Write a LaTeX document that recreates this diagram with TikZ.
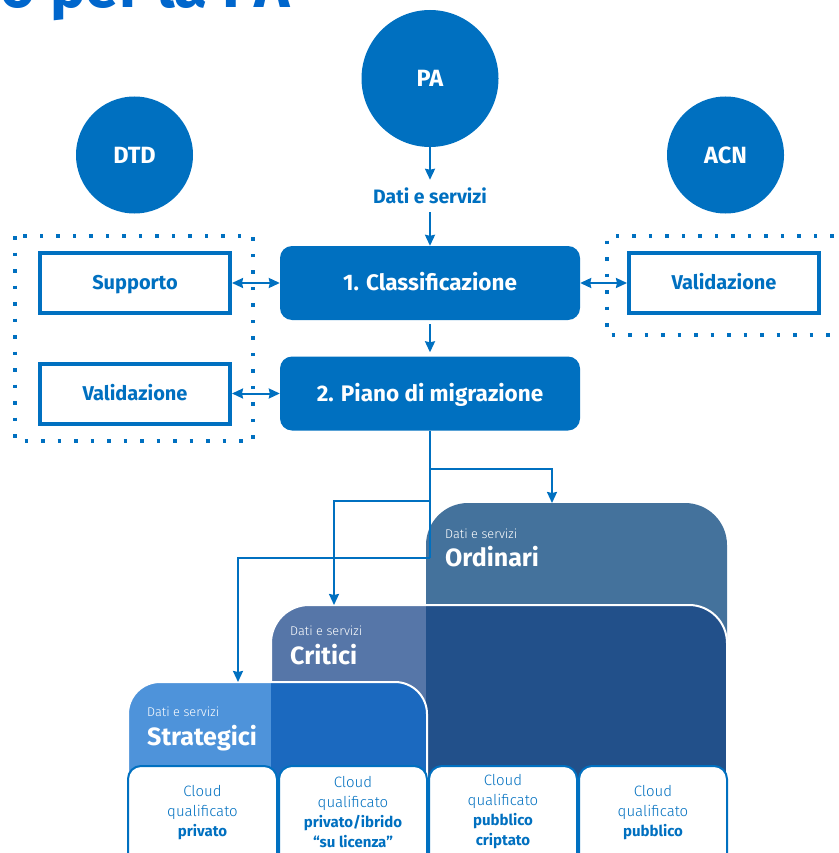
\documentclass[tikz,border=0pt]{standalone}
\usepackage{fontspec}
\setmainfont{Fira Sans}
\newfontfamily\leggero{Fira Sans Light}
\usepackage{tikz}
\usetikzlibrary{arrows.meta}
\usetikzlibrary{shapes}

\definecolor{pablu}{HTML}{0070C0}
\definecolor{titblu}{HTML}{0066CC}
\definecolor{ordcol}{HTML}{44729C}
\definecolor{critcol}{HTML}{5676A8}
\definecolor{critscuro}{HTML}{22508A}
\definecolor{strcol}{HTML}{4E93DA}
\definecolor{strscuro}{HTML}{1B69BF}

\newcommand{\grassetto}[1]{{\rmfamily\bfseries #1}}

\tikzset{>={Stealth[length=11pt,width=10pt,inset=1pt]},
  cerchio/.style={circle, fill=pablu, text=white, inner sep=0pt,
    text height=16.2pt, text depth=0pt,
    font=\bfseries\fontsize{23.5}{26}\selectfont},
  fase/.style={rectangle, rounded corners=12pt, fill=pablu, text=white,
    minimum width=300pt, minimum height=74pt,
    text height=15.5pt, text depth=0pt,
    font=\bfseries\fontsize{22.5}{26}\selectfont},
  ruolo/.style={rectangle, draw=pablu, line width=4pt, fill=white, text=pablu,
    minimum width=190pt, minimum height=60pt,
    text height=13.8pt, text depth=0pt,
    font=\bfseries\fontsize{20}{24}\selectfont},
  cornice/.style={pablu, line width=3.5pt, dash pattern=on 3.5pt off 13pt},
  freccia/.style={pablu, line width=2pt, ->},
  doppia/.style={pablu, line width=2pt, <->},
  linea/.style={pablu, line width=2pt},
  bordo/.style={white, line width=2pt},
  nuvola/.style={draw=pablu, fill=white, line width=2pt, rounded corners=13pt},
  testonuvola/.style={align=center, text=pablu,
    font=\leggero\fontsize{15}{20}\selectfont},
  sopra/.style={anchor=base west, inner sep=0pt, text=white,
    font=\leggero\fontsize{12.7}{15}\selectfont},
  nome/.style={anchor=base west, inner sep=0pt, text=white,
    font=\bfseries\fontsize{25}{28}\selectfont}
}

\begin{document}
\begin{tikzpicture}[x=1pt,y=-1pt]

    \useasboundingbox (0,0) rectangle (838,853);
    \clip (0,0) rectangle (838,853);

    % titolo, tagliato in alto
    \node[anchor=base east, inner sep=0pt, text=titblu,
      font=\bfseries\fontsize{60}{60}\selectfont] (titolo) at (290,8) {o per la PA};

    % attori
    \node[cerchio, minimum size=137pt] (pa) at (430,78.5) {PA};
    \node[cerchio, minimum size=117pt] (dtd) at (134.5,155) {DTD};
    \node[cerchio, minimum size=117pt] (acn) at (725.5,155) {ACN};

    \node[text=pablu, inner sep=8pt, font=\bfseries\fontsize{19.4}{22}\selectfont]
      (dati) at (430,196) {Dati e servizi};

    % fasi
    \node[fase] (classif) at (430,283) {1. Classificazione};
    \node[fase] (piano) at (430,393.5) {2. Piano di migrazione};

    \draw[cornice] (15,236) rectangle (253,441);
    \draw[cornice] (850,236) -- (607,236) -- (607,335) -- (850,335);

    \node[ruolo] (supporto) at (135,283) {Supporto};
    \node[ruolo] (validdtd) at (135,393.5) {Validazione};
    \node[ruolo] (validacn) at (724,283) {Validazione};

    \draw[freccia] (pa) -- (dati);
    \draw[freccia] (dati) -- (classif);
    \draw[freccia, shorten <=4pt, shorten >=4pt] (classif) -- (piano);
    \draw[doppia] (supporto) -- (classif);
    \draw[doppia] (validdtd) -- (piano);
    \draw[doppia] (classif) -- (validacn);


    % categorie di dati e servizi
    \fill[ordcol, rounded corners=42pt] (426,900) -- (426,503) -- (727,503) -- (727,900) -- cycle;

    \fill[critcol, rounded corners=38pt] (271,900) -- (271,605) -- (727,605) -- (727,900) -- cycle;
    \begin{scope}
      \clip[rounded corners=38pt] (271,900) -- (271,605) -- (727,605) -- (727,900) -- cycle;
      \fill[critscuro] (426,600) rectangle (730,900);
    \end{scope}
    \draw[bordo, rounded corners=38pt] (271,900) -- (271,605) -- (727,605) -- (727,900);

    \fill[strcol, rounded corners=32pt] (128,900) -- (128,682) -- (427,682) -- (427,900) -- cycle;
    \begin{scope}
      \clip[rounded corners=32pt] (128,900) -- (128,682) -- (427,682) -- (427,900) -- cycle;
      \fill[strscuro] (271,600) rectangle (430,900);
    \end{scope}
    \draw[bordo, rounded corners=32pt] (128,900) -- (128,682) -- (427,682) -- (427,900);

    \node[sopra] (datiord) at (445,538) {Dati e servizi};
    \node[nome] (ordinari) at (445,566) {Ordinari};
    \node[sopra] (daticrit) at (290,635) {Dati e servizi};
    \node[nome] (critici) at (290,664) {Critici};
    \node[sopra] (datistr) at (147,716) {Dati e servizi};
    \node[nome] (strategici) at (147,745) {Strategici};

    % cloud qualificati
    \draw[nuvola] (128,900) -- (128,766) -- (277,766) -- (277,900);
    \draw[nuvola] (279,900) -- (279,766) -- (427,766) -- (427,900);
    \draw[nuvola] (429,900) -- (429,766) -- (577,766) -- (577,900);
    \draw[nuvola] (579,900) -- (579,766) -- (727,766) -- (727,900);

    \node[testonuvola] (cloud1) at (202.5,813) {Cloud\\qualificato\\\grassetto{privato}};
    \node[testonuvola] (cloud2) at (353,812) {Cloud\\qualificato\\\grassetto{privato/ibrido}\\\grassetto{“su licenza”}};
    \node[testonuvola] (cloud3) at (503,812) {Cloud\\qualificato\\\grassetto{pubblico}\\\grassetto{criptato}};
    \node[testonuvola] (cloud4) at (653,813) {Cloud\\qualificato\\\grassetto{pubblico}};

    % diramazioni dal piano
    \coordinate (biv1) at (430,469);
    \coordinate (biv2) at (430,501);
    \coordinate (biv3) at (430,558);
    \coordinate (ordtop) at (552,503);
    \coordinate (crittop) at (334,605);
    \coordinate (strtop) at (238,682);

    \draw[linea] (piano) -- (biv3);
    \draw[freccia] (biv1) -| (ordtop);
    \draw[freccia] (biv2) -| (crittop);
    \draw[freccia] (biv3) -| (strtop);

\end{tikzpicture}
\end{document}
